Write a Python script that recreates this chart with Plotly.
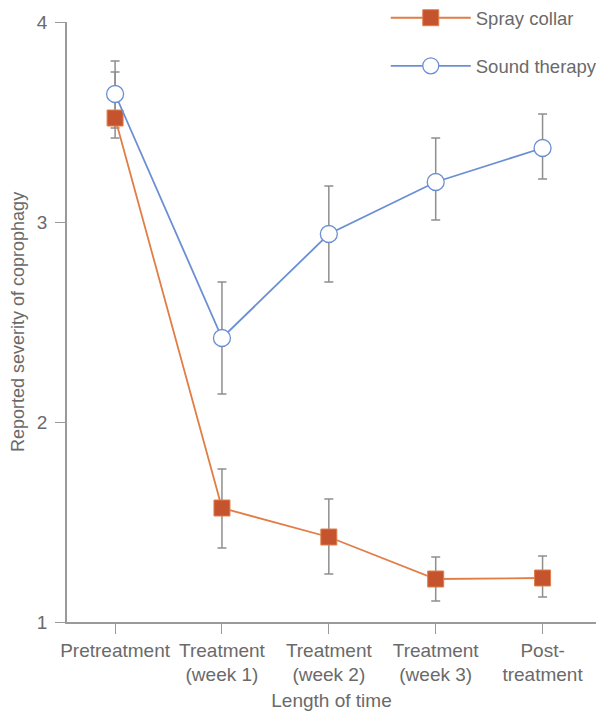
import plotly.graph_objects as go

categories = ["Pretreatment", "Treatment<br>(week 1)", "Treatment<br>(week 2)",
              "Treatment<br>(week 3)", "Post-<br>treatment"]
x_pos = [0, 1, 2, 3, 4]

spray_mean = [3.52, 1.57, 1.425, 1.215, 1.22]
spray_upper = [3.75, 1.765, 1.615, 1.325, 1.33]
spray_lower = [3.42, 1.37, 1.24, 1.105, 1.125]

sound_mean = [3.64, 2.42, 2.94, 3.20, 3.37]
sound_upper = [3.805, 2.70, 3.18, 3.42, 3.54]
sound_lower = [3.47, 2.14, 2.70, 3.01, 3.215]

y_ticks = [1, 2, 3, 4]

FONT = "Liberation Sans, Arial, sans-serif"
TXT = "#6a6a6a"
AX = "#9a9a9a"
ERR = "#8f8f8f"
ORANGE_LINE = "#e27d45"
ORANGE_FILL = "#c4532e"
BLUE = "#6b8fd2"


def err(mean, up, lo):
    return dict(type="data", symmetric=False,
                array=[u - m for u, m in zip(up, mean)],
                arrayminus=[m - l for m, l in zip(mean, lo)],
                color=ERR, thickness=1.5, width=4.5)


fig = go.Figure()
# error bars drawn first (behind all markers)
for mean, up, lo in [(sound_mean, sound_upper, sound_lower),
                     (spray_mean, spray_upper, spray_lower)]:
    fig.add_trace(go.Scatter(x=x_pos, y=mean, mode="markers",
                             marker=dict(size=1, color="rgba(0,0,0,0)"),
                             error_y=err(mean, up, lo), showlegend=False,
                             hoverinfo="skip"))

fig.add_trace(go.Scatter(
    x=x_pos, y=spray_mean, mode="lines+markers", name="Spray collar",
    line=dict(color=ORANGE_LINE, width=1.8),
    marker=dict(symbol="square", size=16, color=ORANGE_FILL,
                line=dict(color="#e0804a", width=1)),
    legendgroup="a"))
fig.add_trace(go.Scatter(
    x=x_pos, y=sound_mean, mode="lines+markers", name="Sound therapy",
    line=dict(color=BLUE, width=1.8),
    marker=dict(symbol="circle", size=17, color="white",
                line=dict(color=BLUE, width=1.3)),
    legendgroup="b"))

fig.update_layout(
    width=596, height=711,
    margin=dict(l=67, r=0, t=22, b=89, autoexpand=False),
    paper_bgcolor="white", plot_bgcolor="white",
    font=dict(family=FONT, color=TXT, size=19),
    legend=dict(x=0.6026, y=1.038, xanchor="left", yanchor="top",
                bgcolor="rgba(0,0,0,0)", traceorder="grouped",
                tracegroupgap=21, itemwidth=80,
                font=dict(size=18.5, color=TXT, family=FONT)),
    xaxis=dict(range=[-0.45, 4.5], tickmode="array", tickvals=x_pos,
               ticktext=categories, showgrid=False, zeroline=False,
               showline=True, linecolor=AX, linewidth=1.5,
               ticks="outside", ticklen=10, tickwidth=1.2, tickcolor=AX,
               tickfont=dict(size=19, color=TXT), automargin=False,
               title=dict(text="Length of time", standoff=11,
                          font=dict(size=19, color=TXT))),
    yaxis=dict(range=[1, 4], tickmode="array", tickvals=y_ticks,
               showgrid=False, zeroline=False,
               showline=True, linecolor=AX, linewidth=1.5,
               ticks="outside", ticklen=10, tickwidth=1.2, tickcolor=AX,
               tickfont=dict(size=19, color=TXT), automargin=False,
               ticklabelstandoff=4),
    annotations=[dict(text="Reported severity of coprophagy", textangle=-90,
                      xref="paper", yref="paper", x=-0.0926, y=0.5,
                      xanchor="center", yanchor="middle", showarrow=False,
                      font=dict(size=18, color=TXT, family=FONT))],
)

fig.write_html("out.html", config={"displayModeBar": False})
# remove the browser's default page margin so the figure fills the window
with open("out.html", encoding="utf-8") as f:
    html = f.read()
html = html.replace("<head>", "<head><style>html,body{margin:0;padding:0;}</style>", 1)
with open("out.html", "w", encoding="utf-8") as f:
    f.write(html)
